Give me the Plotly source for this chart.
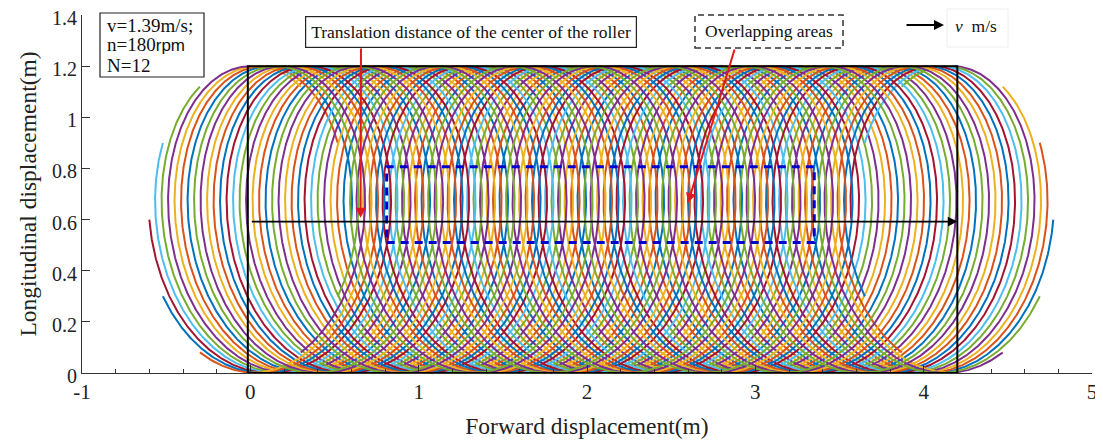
import numpy as np
import plotly.graph_objects as go

# ---- parameters ----
v_speed = 1.39          # m/s
n_rpm = 180             # rpm
N_teeth = 12
roller_radius = 0.6     # m (curves span 0..1.2)
center_height = 0.6     # m
duration = 3.0          # s  (9 full turns)
translation_end = 4.2   # m (black frame / arrow end)
arrow_y = 0.592

x_ticks = [-1, 0, 1, 2, 3, 4, 5]
y_ticks = [0, 0.2, 0.4, 0.6, 0.8, 1.0, 1.2, 1.4]
y_tick_text = ["0", "0.2", "0.4", "0.6", "0.8", "1", "1.2", "1.4"]

overlap_x = [0.81, 3.35]
overlap_y = [0.51, 0.807]

info_lines = ["v=1.39m/s;",
              "n=180<span style='font-family:Liberation Sans, Arial;font-size:17px'>rpm</span>",
              "N=12"]

colors = ["#0072BD", "#D95319", "#EDB120", "#7E2F8E", "#77AC30", "#4DBEEE", "#A2142F"]

# page body margin of the browser (8px) is compensated here
OFF = 8
W, H = 1103 - OFF, 448 - OFF
PL, PR, PT, PB = 82 - OFF, 11, 15 - OFF, 75
XR = [-1, 5]
YR = [0, 1.4]


def px2paper(px, py):
    px -= OFF
    py -= OFF
    return (px - PL) / (W - PL - PR), 1 - (py - PT) / (H - PT - PB)


def px2data(px, py):
    fx, fy = px2paper(px, py)
    return XR[0] + (XR[1] - XR[0]) * fx, YR[0] + (YR[1] - YR[0]) * fy


omega = 2 * np.pi * n_rpm / 60.0
t = np.linspace(0, duration, 6000)

fig = go.Figure()
for k in range(N_teeth):
    phase = 2 * np.pi * k / N_teeth
    xs = v_speed * t + roller_radius * np.cos(phase + omega * t)
    ys = center_height + roller_radius * np.sin(phase + omega * t)
    fig.add_trace(go.Scatter(x=xs, y=ys, mode="lines",
                             line=dict(color=colors[k % 7], width=2),
                             showlegend=False, hoverinfo="skip", cliponaxis=False))

serif = "Liberation Serif, Times New Roman, serif"
txt = dict(family=serif, size=17.5, color="#111")
txt_info = dict(family=serif, size=19, color="#111")

# pixel-based positions for the overlay boxes (reference pixel coords)
info_b0 = px2paper(100, 13)
info_b1 = px2paper(204, 77)
info_rows = [px2paper(105, 25), px2paper(105, 45), px2paper(105, 65)]
trans_p = px2paper(471, 32)
trans_tail = px2data(361, 47)
ovl_p = px2paper(769, 31)
ovl_tail = px2data(735, 48)
ovl_box0 = px2paper(695, 15)
ovl_box1 = px2paper(843, 48)
leg_a0 = px2data(905, 25)
leg_a1 = px2data(944, 25)
leg_p = px2paper(976, 26)
leg_b0 = px2paper(947, 9)
leg_b1 = px2paper(1008, 47)

shapes = [
    dict(type="rect", x0=-0.015, x1=translation_end, y0=0, y1=1.2, xref="x", yref="y",
         line=dict(color="black", width=2), layer="above"),
    dict(type="rect", x0=overlap_x[0], x1=overlap_x[1], y0=overlap_y[0], y1=overlap_y[1],
         xref="x", yref="y", line=dict(color="#0000CC", width=3, dash="8px,6px"), layer="above"),
    dict(type="rect", x0=ovl_box0[0], x1=ovl_box1[0], y0=ovl_box1[1], y1=ovl_box0[1],
         xref="paper", yref="paper", line=dict(color="#333", width=1.5, dash="6px,4px"),
         fillcolor="white", layer="above"),
    dict(type="rect", x0=info_b0[0], x1=info_b1[0], y0=info_b1[1], y1=info_b0[1],
         xref="paper", yref="paper", line=dict(color="#222", width=1.2),
         fillcolor="white", layer="above"),
    dict(type="rect", x0=leg_b0[0], x1=leg_b1[0], y0=leg_b1[1], y1=leg_b0[1],
         xref="paper", yref="paper", line=dict(color="#eeeeee", width=1), layer="above"),
]

annotations = [
    dict(x=translation_end, y=arrow_y, ax=0, ay=arrow_y, xref="x", yref="y", axref="x", ayref="y",
         showarrow=True, arrowhead=2, arrowsize=1.2, arrowwidth=1.6, arrowcolor="black", text=""),
    dict(x=0.655, y=0.607, ax=trans_tail[0], ay=trans_tail[1], xref="x", yref="y",
         axref="x", ayref="y", showarrow=True, arrowhead=2, arrowsize=1, arrowwidth=2,
         arrowcolor="#E0191C", text="", standoff=0),
    dict(x=trans_p[0], y=trans_p[1], xref="paper", yref="paper", xanchor="center",
         yanchor="middle", showarrow=False,
         text="Translation distance of the center of the roller", font=txt,
         bordercolor="#222", borderwidth=1.2, borderpad=5, bgcolor="white"),
    dict(x=2.6, y=0.665, ax=ovl_tail[0], ay=ovl_tail[1], xref="x", yref="y",
         axref="x", ayref="y", showarrow=True, arrowhead=2, arrowsize=1, arrowwidth=2,
         arrowcolor="#E0191C", text=""),
    dict(x=ovl_p[0], y=ovl_p[1], xref="paper", yref="paper", xanchor="center",
         yanchor="middle", showarrow=False, text="Overlapping areas", font=txt),
    dict(x=leg_a1[0], y=leg_a1[1], ax=leg_a0[0], ay=leg_a0[1], xref="x", yref="y",
         axref="x", ayref="y", showarrow=True, arrowhead=2, arrowsize=1, arrowwidth=2,
         arrowcolor="black", text=""),
    dict(x=leg_p[0], y=leg_p[1], xref="paper", yref="paper", xanchor="center",
         yanchor="middle", showarrow=False, text="<i>v</i>  m/s", font=txt),
]
for (rx, ry), line in zip(info_rows, info_lines):
    annotations.append(dict(x=rx, y=ry, xref="paper", yref="paper", xanchor="left",
                            yanchor="middle", showarrow=False, text=line, font=txt_info))

fig.update_layout(
    width=W, height=H,
    margin=dict(l=PL, r=PR, t=PT, b=PB, autoexpand=False),
    plot_bgcolor="white", paper_bgcolor="white",
    shapes=shapes,
    annotations=annotations,
    font=dict(family=serif, size=20, color="#222"),
    xaxis=dict(range=XR, tickvals=x_ticks, ticktext=[str(v) for v in x_ticks],
               showgrid=False, zeroline=False, showline=True, linecolor="#333", linewidth=1,
               ticks="inside", ticklen=8, tickcolor="#333", automargin=False,
               ticklabeloverflow="allow",
               minor=dict(dtick=0.2, ticks="inside", ticklen=4, tickcolor="#333"),
               title=dict(text="Forward displacement(m)", font=dict(size=23.5), standoff=14),
               tickfont=dict(size=21)),
    yaxis=dict(range=YR, tickvals=y_ticks, ticktext=y_tick_text,
               showgrid=False, zeroline=False, showline=True, linecolor="#333", linewidth=1,
               ticks="inside", ticklen=8, tickcolor="#333", automargin=False,
               ticklabeloverflow="allow", ticklabelshift=3,
               title=dict(text="Longitudinal displacement(m)", font=dict(size=23.5), standoff=8),
               tickfont=dict(size=20)),
)

fig.write_html("out.html")
